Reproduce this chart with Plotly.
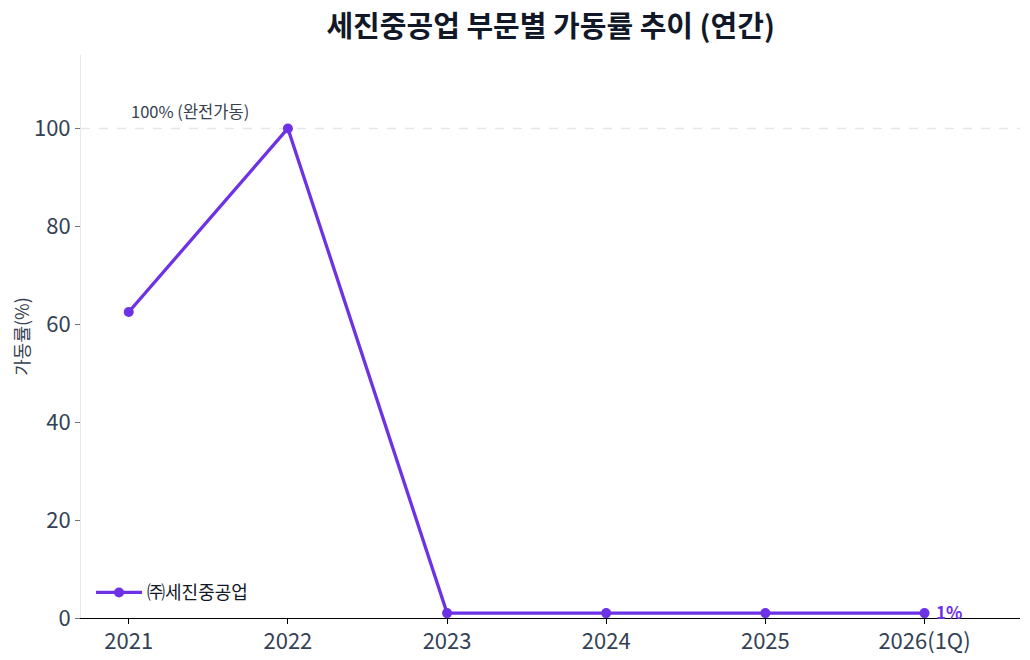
import plotly.graph_objects as go

# 세진중공업 연간 가동률
years = ["2021", "2022", "2023", "2024", "2025", "2026(1Q)"]
util = [62.5, 100, 1, 1, 1, 1]
series_name = "㈜세진중공업"

purple = "#6d32e6"
font = "Noto Sans CJK KR"

fig = go.Figure()
fig.add_trace(go.Scatter(
    x=years, y=util, name=series_name, mode="lines+markers",
    line=dict(color=purple, width=3.3), marker=dict(size=10, color=purple),
    showlegend=True,
))

# 100% 기준선
fig.add_shape(type="line", xref="paper", x0=0, x1=1, y0=100, y1=100,
              line=dict(color="#e5e7eb", width=1.5, dash="dash"), layer="below")
# category axis: use index so "2021" isn't read as a number
fig.add_annotation(x=0, y=100, text="100% (완전가동)", showarrow=False,
                   xanchor="left", yanchor="bottom", xshift=0, yshift=3,
                   font=dict(size=16.5, color="#374151", family=font))
# 마지막 값 라벨
fig.add_annotation(x=len(years) - 1, y=util[-1], text="<b>%d%%</b>" % util[-1], showarrow=False,
                   xanchor="left", xshift=9, yshift=2, font=dict(size=17, color=purple, family=font))

# page body has an 8px margin, so the figure is a bit smaller than the window
fig.update_layout(
    width=1022, height=652,
    margin=dict(l=73, r=10, t=47, b=42),
    paper_bgcolor="white", plot_bgcolor="white",
    font=dict(family=font, color="#334155"),
    title=dict(text="<b>세진중공업 부문별 가동률 추이 (연간)</b>", x=0.531, xanchor="center",
               y=0.971, yanchor="middle", font=dict(size=29, color="#111827")),
    legend=dict(x=0.0107, y=0.012, xanchor="left", yanchor="bottom", bgcolor="rgba(0,0,0,0)",
                itemwidth=46, font=dict(size=18, color="#111827")),
)
fig.update_xaxes(range=[-0.3, 5.6], showline=True, linecolor="black", linewidth=1,
                 ticks="outside", ticklen=5, tickcolor="black", showgrid=False,
                 automargin=False, ticklabelstandoff=-1,
                 tickfont=dict(size=22, color="#334155"))
fig.update_yaxes(range=[0, 115], tickvals=[0, 20, 40, 60, 80, 100], showline=True,
                 linecolor="#e5e7eb", ticks="outside", ticklen=5, tickcolor="#6b7280",
                 showgrid=False, zeroline=False, automargin=False,
                 title=dict(text="가동률(%)", font=dict(size=18, color="#374151"), standoff=10),
                 tickfont=dict(size=22, color="#334155"))

fig.write_html("out.html")
